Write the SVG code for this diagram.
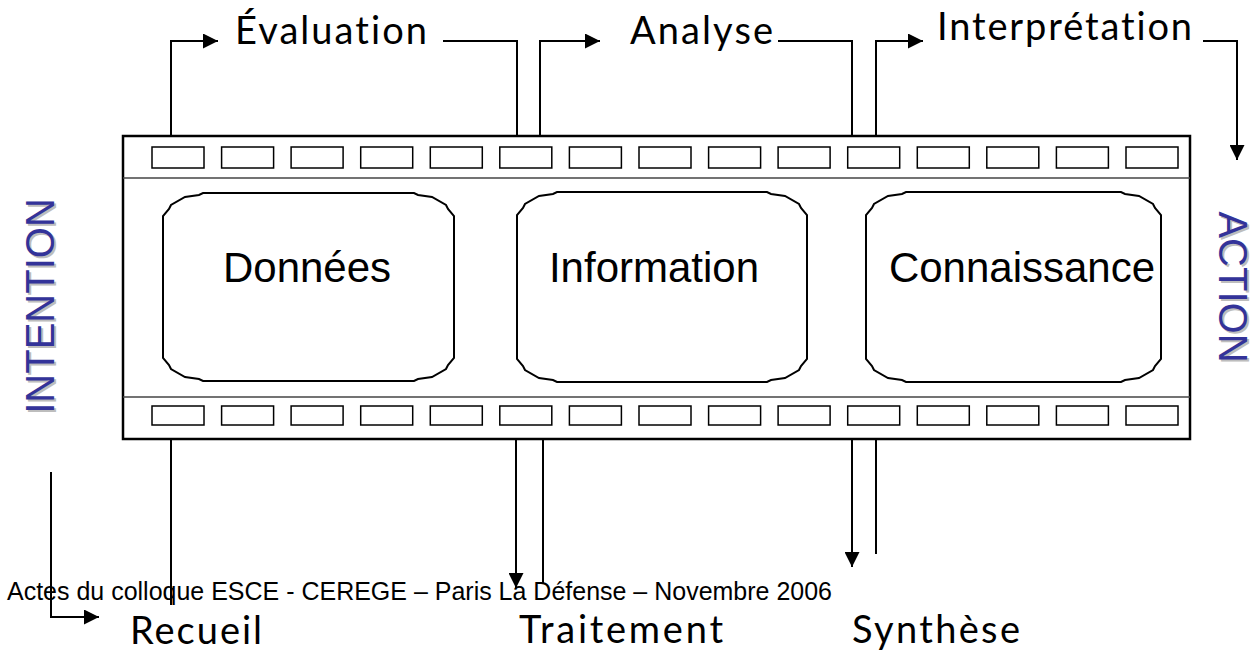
<svg xmlns="http://www.w3.org/2000/svg" width="1255" height="651" viewBox="0 0 1255 651">
<style>
.outer{fill:#fff;stroke:#000;stroke-width:2.5}
.sep{fill:none;stroke:#444;stroke-width:1.5}
.hole{fill:#fff;stroke:#000;stroke-width:1.5}
.frame{fill:#fff;stroke:#000;stroke-width:2}
.main{font-family:"Liberation Sans",Arial,sans-serif;font-size:42px;fill:#000;text-anchor:middle}
.proc{font-family:Lato,"Open Sans",sans-serif;font-size:38px;fill:#000;font-variant-ligatures:none}
.side{font-family:"Liberation Sans",Arial,sans-serif;font-size:40px;fill:#333399;text-anchor:middle}
.shadow{font-family:"Liberation Sans",Arial,sans-serif;font-size:40px;fill:#bdbdbd;text-anchor:middle}
.foot{font-family:"Liberation Sans",Arial,sans-serif;font-size:25px;fill:#000}
.conn{fill:none;stroke:#000;stroke-width:2}
</style>
<defs>
<marker id="arr" viewBox="0 0 15 15" refX="15" refY="7.5" markerWidth="15" markerHeight="15" markerUnits="userSpaceOnUse" orient="auto">
<path d="M0,0 L15,7.5 L0,15 Z" fill="#000"/>
</marker>
<rect id="h" width="52" height="21" class="hole"/>
<rect id="hb" width="52" height="19" class="hole"/>
</defs>

<g id="filmstrip">
<rect class="outer" x="123" y="136" width="1067" height="303"/>
<line class="sep" x1="123" y1="178" x2="1190" y2="178"/>
<line class="sep" x1="123" y1="397" x2="1190" y2="397"/>
<g id="top-holes">
<use href="#h" x="152" y="147"/><use href="#h" x="221.6" y="147"/><use href="#h" x="291.1" y="147"/><use href="#h" x="360.7" y="147"/><use href="#h" x="430.3" y="147"/><use href="#h" x="499.8" y="147"/><use href="#h" x="569.4" y="147"/><use href="#h" x="639" y="147"/><use href="#h" x="708.6" y="147"/><use href="#h" x="778.1" y="147"/><use href="#h" x="847.7" y="147"/><use href="#h" x="917.3" y="147"/><use href="#h" x="986.8" y="147"/><use href="#h" x="1056.4" y="147"/><use href="#h" x="1126" y="147"/>
</g>
<g id="bottom-holes">
<use href="#hb" x="152" y="406"/><use href="#hb" x="221.6" y="406"/><use href="#hb" x="291.1" y="406"/><use href="#hb" x="360.7" y="406"/><use href="#hb" x="430.3" y="406"/><use href="#hb" x="499.8" y="406"/><use href="#hb" x="569.4" y="406"/><use href="#hb" x="639" y="406"/><use href="#hb" x="708.6" y="406"/><use href="#hb" x="778.1" y="406"/><use href="#hb" x="847.7" y="406"/><use href="#hb" x="917.3" y="406"/><use href="#hb" x="986.8" y="406"/><use href="#hb" x="1056.4" y="406"/><use href="#hb" x="1126" y="406"/>
</g>
</g>

<g id="donnees">
<path class="frame" d="M203,193 H414 L418,195 L432,197 L446,205 L448,209 L454,216 V358 L448,365 L446,369 L432,377 L418,379 L414,381 H203 L199,379 L185,377 L171,369 L169,365 L163,358 V216 L169,209 L171,205 L185,197 L199,195 Z"/>
<text class="main" x="307" y="282">Données</text>
</g>
<g id="information">
<path class="frame" d="M557,192 H767 L771,194 L785,196 L799,204 L801,208 L807,215 V359 L801,366 L799,370 L785,378 L771,380 L767,382 H557 L553,380 L539,378 L525,370 L523,366 L517,359 V215 L523,208 L525,204 L539,196 L553,194 Z"/>
<text class="main" x="654" y="282">Information</text>
</g>
<g id="connaissance">
<path class="frame" d="M906,192 H1121 L1125,194 L1139,196 L1153,204 L1155,208 L1161,215 V359 L1155,366 L1153,370 L1139,378 L1125,380 L1121,382 H906 L902,380 L888,378 L874,370 L872,366 L866,359 V215 L872,208 L874,204 L888,196 L902,194 Z"/>
<text class="main" x="1022" y="282">Connaissance</text>
</g>

<g id="connectors">
<path class="conn" d="M171,136 V41 H218" marker-end="url(#arr)"/>
<path class="conn" d="M443,41 H517 V136"/>
<path class="conn" d="M540,136 V41 H600" marker-end="url(#arr)"/>
<path class="conn" d="M778,41 H852 V136"/>
<path class="conn" d="M876,136 V41 H923" marker-end="url(#arr)"/>
<path class="conn" d="M1203,41 H1237 V160" marker-end="url(#arr)"/>
<path class="conn" d="M171,439 V605"/>
<path class="conn" d="M51,472 V617 H99" marker-end="url(#arr)"/>
<path class="conn" d="M516,439 V588" marker-end="url(#arr)"/>
<path class="conn" d="M543,439 V583"/>
<path class="conn" d="M852,439 V567" marker-end="url(#arr)"/>
<path class="conn" d="M876,439 V554"/>
</g>

<g id="evaluation"><text class="proc" x="235" y="44" textLength="192" lengthAdjust="spacing">Évaluation</text></g>
<g id="analyse"><text class="proc" x="630" y="44" textLength="143" lengthAdjust="spacing">Analyse</text></g>
<g id="interpretation"><text class="proc" x="937" y="40" textLength="255" lengthAdjust="spacing">Interprétation</text></g>
<g id="recueil"><text class="proc" x="130" y="644" textLength="132" lengthAdjust="spacing">Recueil</text></g>
<g id="traitement"><text class="proc" x="519" y="643" textLength="204" lengthAdjust="spacing">Traitement</text></g>
<g id="synthese"><text class="proc" x="852" y="643" textLength="168" lengthAdjust="spacing">Synthèse</text></g>

<g id="intention">
<text class="shadow" transform="translate(56,308) rotate(-90)">INTENTION</text>
<text class="side" transform="translate(54,306) rotate(-90)">INTENTION</text>
</g>
<g id="action">
<text class="shadow" transform="translate(1221,289) rotate(90)">ACTION</text>
<text class="side" transform="translate(1219,287) rotate(90)">ACTION</text>
</g>

<g id="footer"><text class="foot" x="7" y="600" textLength="825" lengthAdjust="spacingAndGlyphs">Actes du colloque ESCE - CEREGE – Paris La Défense – Novembre 2006</text></g>
</svg>
